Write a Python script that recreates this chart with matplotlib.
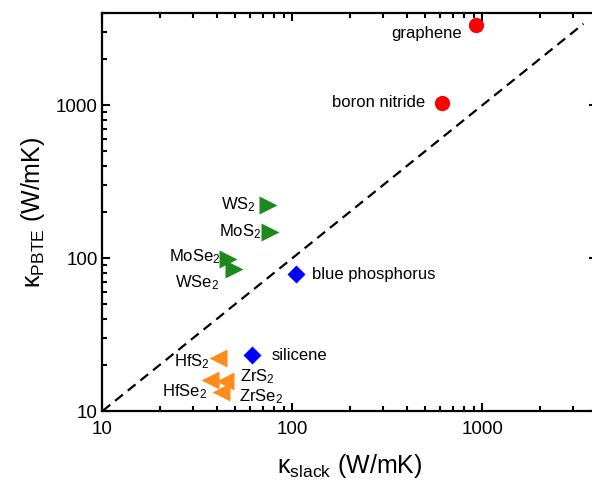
import matplotlib
matplotlib.use("Agg")
import matplotlib.pyplot as plt
from matplotlib.ticker import LogLocator, FuncFormatter, NullFormatter

plt.rcParams['font.family'] = ['Liberation Sans', 'DejaVu Sans']
plt.rcParams['mathtext.fontset'] = 'custom'
plt.rcParams['mathtext.rm'] = 'Liberation Sans'
plt.rcParams['mathtext.it'] = 'Liberation Sans:italic'

# kappa_slack (x) and kappa_PBTE (y), in W/mK, per material group
circles = ["graphene", "boron nitride"]
circles_x = [920, 615]
circles_y = [3330, 1035]

right_tri = ["WS$_2$", "MoS$_2$", "MoSe$_2$", "WSe$_2$"]
right_tri_x = [74, 76, 45.7, 49]
right_tri_y = [222, 148, 98.5, 85]

diamonds = ["blue phosphorus", "silicene"]
diamonds_x = [104, 61]
diamonds_y = [78.6, 23.2]

left_tri = ["HfS$_2$", "HfSe$_2$", "ZrS$_2$", "ZrSe$_2$"]
left_tri_x = [40.5, 36.8, 44, 42]
left_tri_y = [22.2, 15.9, 15.7, 13.3]

guide = [10, 3400]

# label offsets in pixels (dx, dy, ha)
offsets = {
    "graphene": (-14, -8, "right"),
    "boron nitride": (-17, 0, "right"),
    "WS$_2$": (-12, 0, "right"),
    "MoS$_2$": (-9, 0, "right"),
    "MoSe$_2$": (-7, 2, "right"),
    "WSe$_2$": (-14, -14, "right"),
    "blue phosphorus": (16, 0, "left"),
    "silicene": (20, 0, "left"),
    "HfS$_2$": (-8, -4, "right"),
    "HfSe$_2$": (-3, -11, "right"),
    "ZrS$_2$": (15, 4, "left"),
    "ZrSe$_2$": (18, -5, "left"),
}

fig = plt.figure(figsize=(5.92, 4.93), dpi=100)
# right spine sits just past the image edge, as in the original
ax = fig.add_axes([0.1731, 0.1663, 0.8351, 0.8073])

ax.plot(guide, guide, color="black", lw=1.6, dashes=(4.5, 2.8), zorder=1)

groups = [
    (circles, circles_x, circles_y, "o", "#ff0000", 11),
    (right_tri, right_tri_x, right_tri_y, ">", "#1e8a1e", 13),
    (diamonds, diamonds_x, diamonds_y, "D", "#0000ff", 9.5),
    (left_tri, left_tri_x, left_tri_y, "<", "#ff8c1a", 13),
]
for names, xs, ys, m, c, ms in groups:
    ax.plot(xs, ys, ls="none", marker=m, color=c, ms=ms, mec="none", zorder=3)
    for n, x, y in zip(names, xs, ys):
        dx, dy, ha = offsets[n]
        ax.annotate(n, (x, y), xytext=(dx, dy), textcoords="offset pixels",
                    ha=ha, va="center", fontsize=12)

ax.set_xscale("log")
ax.set_yscale("log")
ax.set_xlim(10, 4000)
ax.set_ylim(10, 4000)

fmt = FuncFormatter(lambda v, p: f"{v:g}")
for axis in (ax.xaxis, ax.yaxis):
    axis.set_major_locator(LogLocator(base=10))
    axis.set_minor_locator(LogLocator(base=10, subs=range(2, 10)))
    axis.set_major_formatter(fmt)
    axis.set_minor_formatter(NullFormatter())

ax.tick_params(which="both", direction="in", top=True, right=True, width=1.5,
               labelsize=13.5)
ax.tick_params(which="major", length=6)
ax.tick_params(which="minor", length=3.5)
ax.tick_params(axis="x", which="both", pad=7)
for s in ax.spines.values():
    s.set_linewidth(1.6)

ax.set_xlabel(r"$\mathregular{\kappa_{slack}}$ (W/mK)", fontsize=18, labelpad=10)
ax.set_ylabel(r"$\mathregular{\kappa_{PBTE}}$ (W/mK)", fontsize=18, labelpad=6)

fig.savefig("out.png", dpi=100)
